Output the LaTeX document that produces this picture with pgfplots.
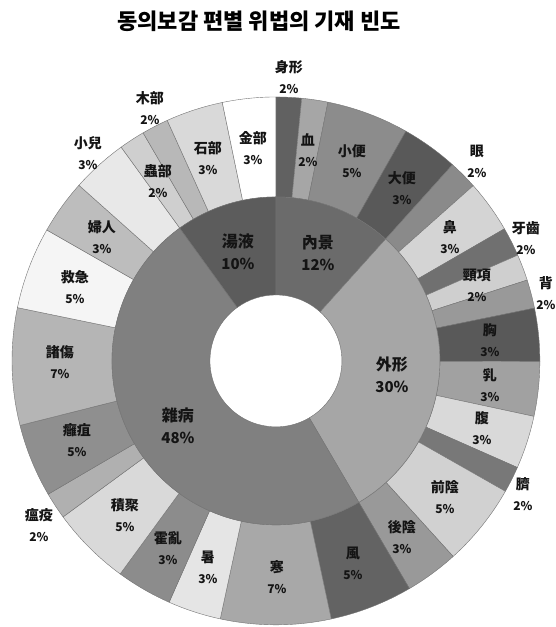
\documentclass[border=0pt]{standalone}
\usepackage{pgfplots}
\pgfplotsset{compat=1.18}
\usepackage{pgfplotstable}
\usepackage{fontspec}
\setmainfont{Noto Sans CJK KR}
\definecolor{edge}{gray}{0.45}
\definecolor{lbl}{gray}{0.08}

% outer ring (clockwise from 12 o'clock): name, share, shown %, gray level, label position
\pgfplotstableread[col sep=comma]{
name,val,pct,g,lx,ly
身形,1.56,2,0.38,13,284
血,1.60,2,0.65,32,211
小便,5.04,5,0.55,76,200
大便,3.47,3,0.35,126,173
眼,1.78,2,0.54,201,200
鼻,3.22,3,0.83,174,124
牙齒,1.78,2,0.44,250,123
頸項,1.61,2,0.81,201,76
背,1.75,2,0.60,270,68
胸,3.25,3,0.35,214,21
乳,3.33,3,0.63,214,-24
腹,3.25,3,0.85,206,-67
臍,1.61,2,0.47,247,-133
前陰,5.06,5,0.82,169,-136
後陰,3.28,3,0.60,126,-176
風,5.08,5,0.39,77,-202
寒,6.75,7,0.66,1,-216
暑,3.25,3,0.90,-68,-206
霍亂,3.42,3,0.55,-108,-187
積聚,4.89,5,0.85,-151,-154
瘟疫,1.64,2,0.69,-237,-164
癰疽,4.50,5,0.56,-199,-79
諸傷,7.17,7,0.71,-216,-1
救急,5.03,5,0.96,-201,74
婦人,3.33,3,0.74,-174,124
小兒,3.44,3,0.91,-188,208
蟲部,1.58,2,0.81,-118,180
木部,1.64,2,0.72,-126,253
石部,3.50,3,0.85,-68,203
金部,3.26,3,1.00,-23,213
}\outertab

% inner ring
\pgfplotstableread[col sep=comma]{
name,val,pct,g,lx,ly
內景,11.67,12,0.42,42,108
外形,29.92,30,0.65,116,-14
雜病,48.50,48,0.50,-98,-65
湯液,9.98,10,0.36,-38,109
}\innertab

\newcount\rowi
% #1 table, #2 inner radius, #3 outer radius, #4 name font, #5 percent font
\newcommand\drawring[5]{%
  \pgfplotstablegetrowsof{#1}\edef\nrows{\pgfplotsretval}%
  \def\tot{0}%
  \rowi=0
  \loop\ifnum\rowi<\nrows
    \pgfplotstablegetelem{\the\rowi}{val}\of{#1}%
    \pgfmathsetmacro\tot{\tot+\pgfplotsretval}%
    \advance\rowi by 1
  \repeat
  \def\cum{90}%
  \rowi=0
  \loop\ifnum\rowi<\nrows
    \pgfplotstablegetelem{\the\rowi}{val}\of{#1}\let\v\pgfplotsretval
    \pgfplotstablegetelem{\the\rowi}{g}\of{#1}\definecolor{slc}{gray}{\pgfplotsretval}%
    \pgfmathsetmacro\a{\cum}%
    \pgfmathsetmacro\b{\cum-\v/\tot*360}%
    \filldraw[fill=slc,draw=edge,line width=0.4pt]
      ([shift={(\a:#3pt)}]O) arc[start angle=\a,end angle=\b,radius=#3pt]
      -- ([shift={(\b:#2pt)}]O) arc[start angle=\b,end angle=\a,radius=#2pt] -- cycle;
    \let\cum\b
    \advance\rowi by 1
  \repeat
  \rowi=0
  \loop\ifnum\rowi<\nrows
    \pgfplotstablegetelem{\the\rowi}{name}\of{#1}\let\nm\pgfplotsretval
    \pgfplotstablegetelem{\the\rowi}{pct}\of{#1}\let\pc\pgfplotsretval
    \pgfplotstablegetelem{\the\rowi}{lx}\of{#1}\let\lx\pgfplotsretval
    \pgfplotstablegetelem{\the\rowi}{ly}\of{#1}\let\ly\pgfplotsretval
    \node[align=center,text=lbl,font=#4,inner sep=0pt] at (axis cs:\lx,\ly) {\nm\\{#5\pc\%}};
    \advance\rowi by 1
  \repeat
}

\begin{document}
\begin{tikzpicture}
\begin{axis}[x=1pt,y=1pt,xmin=-276,xmax=279,ymin=-266,ymax=361,
  hide axis,clip=false]
\pgfplotsextra{%
  \path (axis cs:0,0) coordinate (O);
  \drawring{\outertab}{164}{264}{\fontsize{14}{21}\selectfont\bfseries}{\fontsize{12}{14}\selectfont\bfseries}%
  \drawring{\innertab}{66}{164}{\fontsize{16}{22}\selectfont\bfseries}{\fontsize{15}{17}\selectfont\bfseries}%
  \node[font=\fontsize{22}{26}\selectfont\bfseries,text=black] at (axis cs:-17,340) {동의보감 편별 위법의 기재 빈도};
}
\end{axis}
\path (current axis.south west) rectangle (current axis.north east);
\end{tikzpicture}
\end{document}
